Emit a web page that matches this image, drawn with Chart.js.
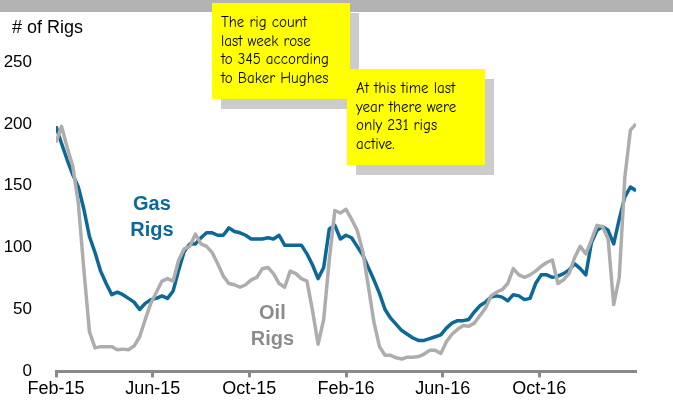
<!DOCTYPE html>
<html>
<head>
<meta charset="utf-8">
<script src="https://cdn.jsdelivr.net/npm/chart.js@4"></script>
<style>
  html, body { margin: 0; padding: 0; background: #fff; }
  #wrap { position: relative; width: 673px; height: 403px; }
</style>
</head>
<body>
<div id="wrap"><canvas id="rigs"></canvas></div>
<script>
// weekly rig counts, Feb 2015 onward
const gasRigs = [
  198, 184, 171, 159, 149, 131, 109, 96, 81, 71,
  62, 64, 62, 59, 56, 50, 55, 58, 59, 61,
  59, 65, 82, 97, 103, 103, 108, 112, 112, 110,
  110, 116, 113, 112, 110, 107, 107, 107, 108, 107,
  110, 102, 102, 102, 102, 95, 86, 75, 84, 115,
  118, 107, 110, 108, 101, 94, 84, 74, 63, 50,
  43, 38, 33, 30, 27, 25, 25, 26.5, 28, 29.5,
  35, 39, 41, 41, 42, 48, 53, 56, 60, 61,
  60, 57, 62, 61, 58, 59, 71, 78, 78, 76,
  77, 79, 82, 87, 83, 78, 104, 114, 117, 114,
  103, 123, 141, 149, 146
];
const oilRigs = [
  185, 198, 181, 166, 136, 82, 32, 19, 20, 20,
  20, 17.5, 18, 17.5, 20.5, 28, 42, 55, 64, 73,
  75, 73, 90, 99, 101, 111, 103, 101, 96, 87,
  77, 71, 70, 68, 70, 74, 76, 83, 84, 79,
  71, 68, 81, 79, 75, 73, 49, 22, 42, 90,
  130, 128, 131, 123, 114, 97, 69, 40, 20, 13,
  13, 11, 10, 11.5, 11.5, 12, 14, 17, 17, 14.5,
  24, 30, 34, 37, 36.5, 39, 45, 51, 61, 64,
  66, 71, 83, 78, 76, 78, 81, 85, 88, 90,
  71, 74, 79, 92, 101, 95, 106, 118, 117, 107,
  54, 76, 157, 195, 200
];

// axis labels every four months (week offsets from Feb-15)
const tickWeeks = [0, 17.33, 34.67, 52, 69.33, 86.67];
const tickLabels = ['Feb-15', 'Jun-15', 'Oct-15', 'Feb-16', 'Jun-16', 'Oct-16'];

const noteOne = ['The rig count', 'last week rose', 'to 345 according', 'to Baker Hughes'];
const noteTwo = ['At this time last', 'year there were', 'only 231 rigs', 'active.'];

const BLUE = '#0b6897';
const GREY = '#adadad';
const AXIS_FONT = 'Arial, "Liberation Sans", sans-serif';
const NOTE_FONT = '"Comic Sans MS", "Comic Neue", "Noto Sans", sans-serif';

function toPoints(values) {
  return values.map((v, i) => ({ x: i, y: v }));
}

// header strip, titles, series names and the two sticky notes
const decorations = {
  id: 'decorations',
  beforeDraw(chart) {
    const ctx = chart.ctx;
    ctx.save();
    ctx.fillStyle = '#b3b3b3';
    ctx.fillRect(0, 0, chart.width, 12);
    ctx.restore();
  },
  afterDraw(chart) {
    const ctx = chart.ctx;
    const xs = chart.scales.x;
    const ys = chart.scales.y;
    ctx.save();

    ctx.fillStyle = '#000';
    ctx.font = '18px ' + AXIS_FONT;
    ctx.textAlign = 'left';
    ctx.textBaseline = 'middle';
    ctx.fillText('# of Rigs', 12, 28);

    ctx.textAlign = 'center';
    ctx.font = 'bold 20px ' + AXIS_FONT;
    ctx.fillStyle = BLUE;
    ctx.fillText('Gas', xs.getPixelForValue(17.2), ys.getPixelForValue(135));
    ctx.fillText('Rigs', xs.getPixelForValue(17.2), ys.getPixelForValue(114));
    ctx.fillStyle = '#8c8c8c';
    ctx.fillText('Oil', xs.getPixelForValue(38.8), ys.getPixelForValue(47));
    ctx.fillText('Rigs', xs.getPixelForValue(38.8), ys.getPixelForValue(26));

    drawNote(ctx, 212, 3, 138, 96, noteOne);
    drawNote(ctx, 347, 69, 138, 96, noteTwo);
    ctx.restore();
  }
};

function drawNote(ctx, x, y, w, h, lines) {
  ctx.fillStyle = '#cccccc';
  ctx.fillRect(x + 9, y + 10, w, h);
  ctx.fillStyle = '#ffff00';
  ctx.fillRect(x, y, w, h);
  ctx.fillStyle = '#000';
  ctx.font = '15px ' + NOTE_FONT;
  ctx.textAlign = 'left';
  ctx.textBaseline = 'alphabetic';
  lines.forEach((line, i) => {
    ctx.fillText(line, x + 9, y + 24 + i * 18.7);
  });
}

new Chart(document.getElementById('rigs'), {
  type: 'line',
  data: {
    datasets: [
      {
        label: 'Oil Rigs',
        data: toPoints(oilRigs),
        borderColor: GREY,
        borderWidth: 3.5,
        pointRadius: 0,
        tension: 0,
        borderJoinStyle: 'round'
      },
      {
        label: 'Gas Rigs',
        data: toPoints(gasRigs),
        borderColor: BLUE,
        borderWidth: 3.5,
        pointRadius: 0,
        tension: 0,
        borderJoinStyle: 'round'
      }
    ]
  },
  options: {
    responsive: true,
    maintainAspectRatio: false,
    animation: false,
    layout: { padding: { top: 62, right: 37, bottom: 2, left: 0 } },
    plugins: {
      legend: { display: false },
      tooltip: { enabled: false }
    },
    scales: {
      x: {
        type: 'linear',
        min: 0,
        max: 104,
        afterBuildTicks(scale) {
          scale.ticks = tickWeeks.map(v => ({ value: v }));
        },
        grid: {
          drawOnChartArea: false,
          drawTicks: true,
          tickLength: 6,
          tickWidth: 3,
          tickColor: '#8a8a8a'
        },
        border: { display: true, color: '#8a8a8a', width: 3 },
        ticks: {
          autoSkip: false,
          maxRotation: 0,
          padding: 1,
          color: '#000',
          font: { size: 18, family: AXIS_FONT },
          callback: (value, index) => tickLabels[index]
        }
      },
      y: {
        min: 0,
        max: 250,
        afterFit(scale) { scale.width = 56; },
        grid: { display: false },
        border: { display: false },
        ticks: {
          stepSize: 50,
          padding: 16,
          color: '#000',
          font: { size: 17, family: AXIS_FONT }
        }
      }
    }
  },
  plugins: [decorations]
});
</script>
</body>
</html>
